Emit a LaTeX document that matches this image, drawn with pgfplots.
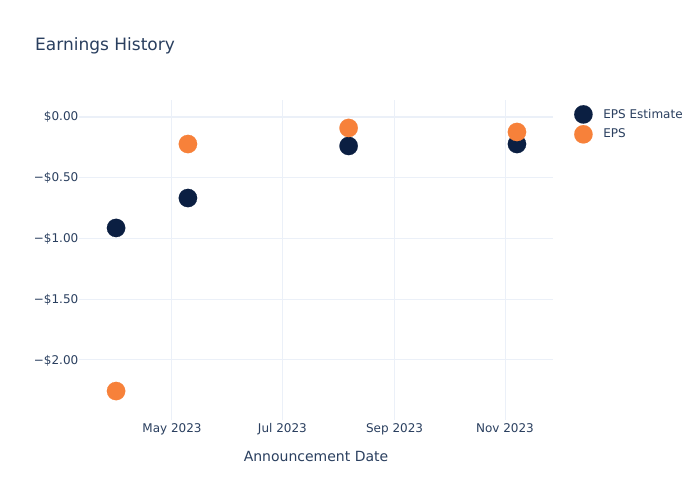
\documentclass[border=0pt]{standalone}
\usepackage{pgfplots}
\pgfplotsset{compat=1.18}
\usepackage{fontspec}
\setmainfont{DejaVu Sans}
\definecolor{txt}{HTML}{2A3F5F}
\definecolor{gridc}{HTML}{EBF0F8}
\definecolor{est}{HTML}{0B1F42}
\definecolor{eps}{HTML}{F7813A}
\begin{document}
\begin{tikzpicture}[x=1pt,y=1pt]
\path[use as bounding box,fill=white] (0,0) rectangle (700,500);
\node[anchor=base west, font=\fontsize{17}{20}\selectfont, text=txt, inner sep=0] at (35,449.5) {Earnings History};
\begin{axis}[
  at={(79pt,80pt)}, anchor=south west,
  scale only axis, width=474pt, height=320pt,
  xmin=68.62, xmax=330.52, ymin=-2.494, ymax=0.137,
  clip=false,
  axis line style={draw=none}, tick style={draw=none},
  xtick={120,181,243,304},
  xticklabels={May 2023,Jul 2023,Sep 2023,Nov 2023},
  ytick={-2,-1.5,-1,-0.5},
  yticklabels={−\$2.00,−\$1.50,−\$1.00,−\$0.50},
  extra y ticks={0}, extra y tick labels={\$0.00},
  extra y tick style={grid style={gridc, line width=2pt}},
  xmajorgrids, ymajorgrids,
  grid style={gridc, line width=1pt},
  ticklabel style={font=\fontsize{12}{14}\selectfont, text=txt},
  yticklabel style={inner sep=0pt, anchor=base east, xshift=-0.5pt, yshift=-4.3pt},
  xticklabel style={inner sep=0pt, anchor=north, yshift=-3pt},
  xlabel={Announcement Date},
  xlabel style={font=\fontsize{14}{17}\selectfont, text=txt, inner sep=0pt, anchor=north, at={(axis description cs:0.5,0)}, yshift=-31pt},
  legend style={draw=none, fill=none, at={(1,1)}, anchor=north west, xshift=18pt, yshift=-3pt,
    font=\fontsize{12}{14}\selectfont, text=txt, row sep=1.5pt},
  legend cell align=left,
  legend image code/.code={\path[draw=none,fill=none] (-9pt,0pt) (18pt,0pt); \draw[#1] plot coordinates {(0pt,0pt)};},
]
\addplot[only marks, mark=*, mark size=9.2pt, color=est, mark options={draw=est, fill=est, line width=0.1pt}] coordinates {
  (89.1,-0.915) (128.8,-0.669) (217.6,-0.241) (310.6,-0.225)
};
\addlegendentry{EPS Estimate}
\addplot[only marks, mark=*, mark size=9.2pt, color=eps, mark options={draw=eps, fill=eps, line width=0.1pt}] coordinates {
  (89.1,-2.256) (128.8,-0.225) (217.6,-0.093) (310.6,-0.126)
};
\addlegendentry{EPS}
\end{axis}
\end{tikzpicture}
\end{document}
